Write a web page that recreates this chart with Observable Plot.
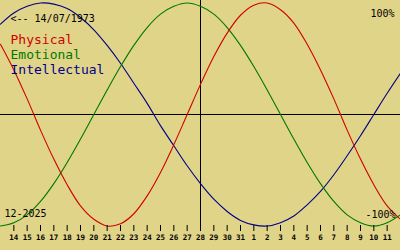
<!DOCTYPE html>
<html>
<head>
<meta charset="utf-8">
<script src="https://cdn.jsdelivr.net/npm/d3@7"></script>
<script src="https://cdn.jsdelivr.net/npm/@observablehq/plot@0.6"></script>
<style>
  html, body { margin: 0; padding: 0; background: #e0d488; }
  #chart svg { display: block; }
</style>
</head>
<body>
<div id="chart"></div>
<script>
// Day offsets relative to the centre day (28 Dec 2025)
const dayOffsets = [-15,-14,-13,-12,-11,-10,-9,-8,-7,-6,-5,-4,-3,-2,-1,0,1,2,3,4,5,6,7,8,9,10,11,12,13,14,15];
const physical = [0.63,0.40,0.14,-0.14,-0.40,-0.63,-0.82,-0.94,-1.00,-0.98,-0.89,-0.73,-0.52,-0.27,0,0.27,0.52,0.73,0.89,0.98,1.00,0.94,0.82,0.63,0.40,0.14,-0.14,-0.40,-0.63,-0.82,-0.94];
const emotional = [-1.00,-0.97,-0.90,-0.78,-0.62,-0.43,-0.22,0,0.22,0.43,0.62,0.78,0.90,0.97,1.00,0.97,0.90,0.78,0.62,0.43,0.22,0,-0.22,-0.43,-0.62,-0.78,-0.90,-0.97,-1.00,-0.97,-0.90];
const intellectual = [0.81,0.91,0.97,1.00,0.99,0.95,0.87,0.76,0.62,0.46,0.28,0.10,-0.10,-0.28,-0.46,-0.62,-0.76,-0.87,-0.95,-0.99,-1.00,-0.97,-0.91,-0.81,-0.69,-0.54,-0.37,-0.19,0,0.19,0.37];

const tickOffsets = [-14,-13,-12,-11,-10,-9,-8,-7,-6,-5,-4,-3,-2,-1,0,1,2,3,4,5,6,7,8,9,10,11,12,13,14];
const tickLabels = ["14","15","16","17","18","19","20","21","22","23","24","25","26","27","28","29","30","31","1","2","3","4","5","6","7","8","9","10","11"];

const centerDay = [0];
const zeroLevel = [0];
const seriesNames = ["Physical","Emotional","Intellectual"];
const seriesColors = ["#d00000","#007800","#000088"];
const birthLabel = ["<-- 14/07/1973"];
const monthLabel = ["12-2025"];
const topLabel = ["100%"];
const bottomLabel = ["-100%"];

const rows = (vals) => dayOffsets.map((d, i) => ({d, v: vals[i]}));
const labelOf = new Map(tickOffsets.map((t, i) => [t, tickLabels[i]]));
const font = "'DejaVu Sans Mono', monospace";

const chart = Plot.plot({
  width: 400,
  height: 250,
  marginTop: 0,
  marginRight: 0,
  marginLeft: 0,
  marginBottom: 25,
  style: {background: "#e0d488", color: "black", fontFamily: font, overflow: "visible"},
  x: {domain: [-15, 15], axis: null},
  y: {domain: [-0.9955, 1.0224], axis: null},
  marks: [
    Plot.ruleY(zeroLevel, {stroke: "black", strokeWidth: 1}),
    Plot.ruleX(centerDay, {stroke: "black", strokeWidth: 1}),
    Plot.line(rows(intellectual), {x: "d", y: "v", stroke: seriesColors[2], strokeWidth: 1.1, curve: "catmull-rom"}),
    Plot.line(rows(emotional), {x: "d", y: "v", stroke: seriesColors[1], strokeWidth: 1.1, curve: "catmull-rom"}),
    Plot.line(rows(physical), {x: "d", y: "v", stroke: seriesColors[0], strokeWidth: 1.1, curve: "catmull-rom"}),
    Plot.axisX({
      ticks: tickOffsets,
      tickFormat: (t) => labelOf.get(t),
      tickSize: 6,
      tickPadding: 3,
      fontSize: 7.5,
      fontWeight: "bold",
      stroke: "black",
      fill: "black",
      label: null
    }),
    Plot.text(birthLabel, {frameAnchor: "top-left", dx: 10, dy: 21, text: d => d, fontSize: 10, textAnchor: "start", lineAnchor: "bottom", fill: "black"}),
    Plot.text(topLabel, {frameAnchor: "top-right", dx: -6, dy: 16, text: d => d, fontSize: 10, textAnchor: "end", lineAnchor: "bottom", fill: "black"}),
    Plot.text(bottomLabel, {frameAnchor: "top-right", dx: -5, dy: 217, text: d => d, fontSize: 10, textAnchor: "end", lineAnchor: "bottom", fill: "black"}),
    Plot.text(monthLabel, {frameAnchor: "top-left", dx: 4, dy: 216, text: d => d, fontSize: 10, textAnchor: "start", lineAnchor: "bottom", fill: "black"}),
    Plot.text([seriesNames[0]], {frameAnchor: "top-left", dx: 10, dy: 43, text: d => d, fontSize: 13, textAnchor: "start", lineAnchor: "bottom", fill: seriesColors[0]}),
    Plot.text([seriesNames[1]], {frameAnchor: "top-left", dx: 10, dy: 58, text: d => d, fontSize: 13, textAnchor: "start", lineAnchor: "bottom", fill: seriesColors[1]}),
    Plot.text([seriesNames[2]], {frameAnchor: "top-left", dx: 10, dy: 73, text: d => d, fontSize: 13, textAnchor: "start", lineAnchor: "bottom", fill: seriesColors[2]})
  ]
});
document.getElementById("chart").appendChild(chart);
</script>
</body>
</html>
